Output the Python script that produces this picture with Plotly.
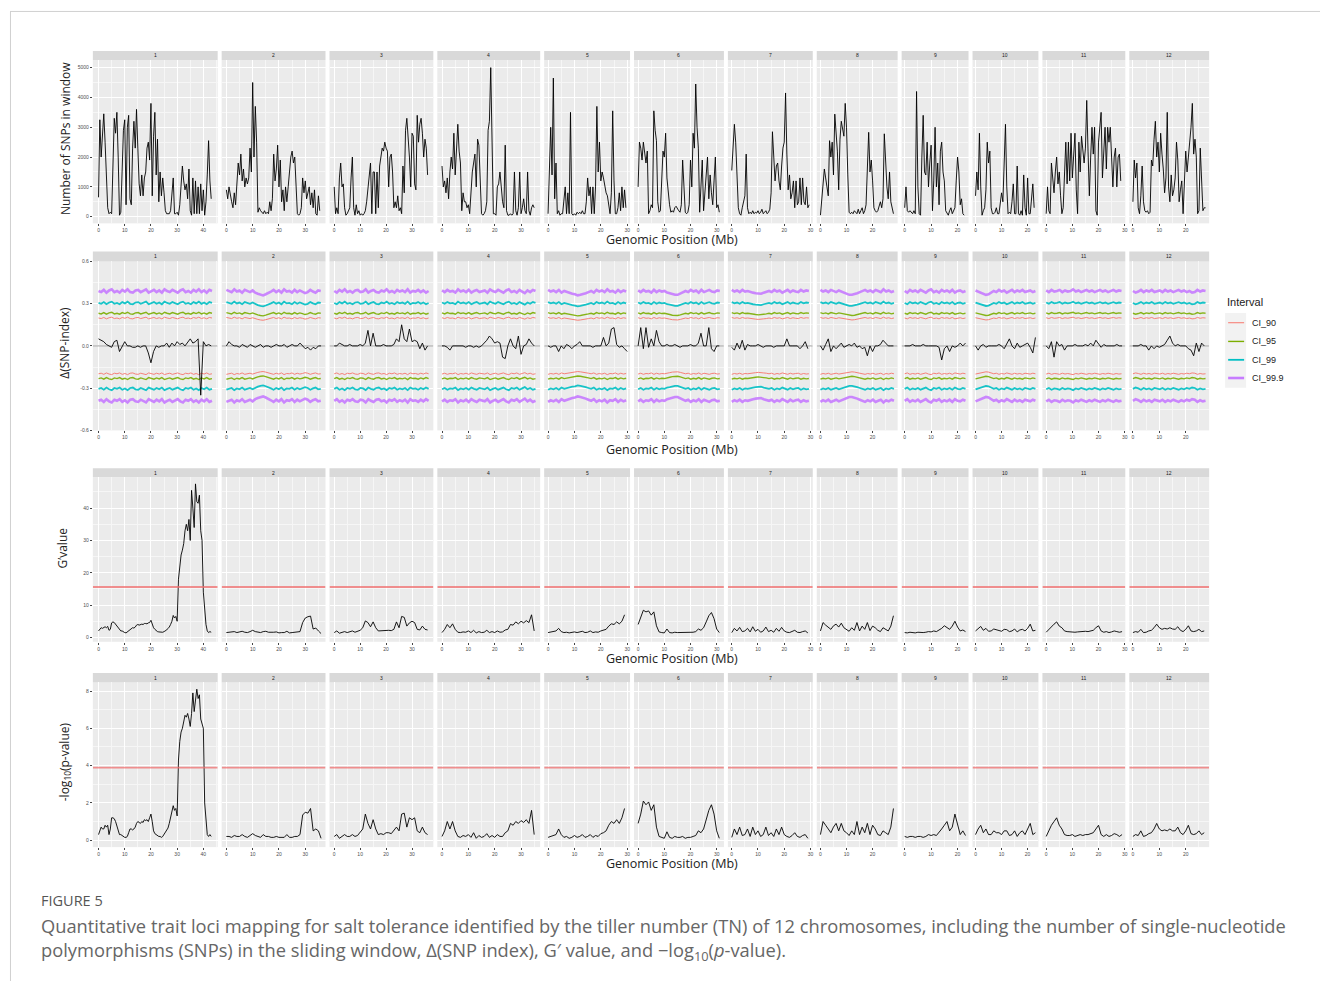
import numpy as np
import plotly.graph_objects as go

W, H = 1322, 984

# ---------------- data ----------------
CHROMS = ["1", "2", "3", "4", "5", "6", "7", "8", "9", "10", "11", "12"]
CHROM_MB = [43.3, 35.9, 36.4, 35.5, 29.6, 31.2, 29.4, 28.2, 23.0, 23.0, 28.8, 27.5]

SNP_STEP = 0.5
snp_chr1 = [650, 3250, 2000, 2800, 3450, 2500, 1600, 300, 100, 150, 100, 1500, 3300, 2800, 3500, 2000, 50, 150, 1600, 2900,
            3250, 400, 3000, 3400, 600, 400, 2300, 3200, 2300, 3600, 2300, 1100, 700, 1400, 700, 1300, 1500, 2300, 2500, 1900,
            3800, 700, 2700, 3500, 1400, 2600, 500, 1500, 700, 1300, 800, 200, 100, 100, 100, 200, 900, 1300, 100, 100,
            150, 50, 400, 1200, 1700, 1200, 900, 1100, 600, 1600, 200, 50, 1300, 100, 1200, 100, 1000, 100, 1100, 200,
            900, 50, 500, 1400, 2550, 1200, 600]
snp_chr2 = [900, 600, 1000, 700, 500, 300, 800, 400, 1300, 1800, 1400, 2100, 1200, 1600, 1000, 1300, 1100, 1300, 2300, 1500,
            4500, 2000, 3700, 2500, 150, 300, 200, 150, 100, 200, 100, 150, 100, 500, 200, 600, 2100, 1200, 1600, 2400,
            1000, 1900, 500, 900, 200, 1000, 500, 1000, 1500, 2000, 2200, 1800, 2000, 1000, 100, 50, 100, 300, 1300, 800,
            1200, 600, 800, 1000, 400, 800, 300, 900, 100, 50, 700, 200]
snp_chr3 = [1000, 100, 300, 100, 1300, 1800, 1000, 1100, 300, 50, 100, 200, 300, 1300, 2000, 300, 50, 400, 100, 200,
            50, 100, 50, 100, 200, 500, 1000, 1300, 1800, 100, 1500, 1500, 100, 1500, 300, 1700, 2000, 2300, 2200, 2500,
            2300, 2200, 1000, 2000, 2100, 1500, 300, 500, 300, 700, 200, 300, 100, 1700, 800, 2900, 3300, 2700, 2000, 1000,
            2800, 2700, 1100, 900, 3400, 2500, 3100, 3300, 2800, 2000, 2600, 2300, 1400]
snp_chr4 = [1700, 1000, 1200, 800, 1300, 600, 1500, 2000, 1600, 2800, 1400, 2300, 3100, 2200, 1800, 200, 800, 500, 500, 300,
            400, 100, 800, 1500, 1800, 2100, 1000, 2600, 2400, 1100, 100, 50, 100, 200, 500, 2900, 3200, 5000, 2600, 100,
            100, 50, 1000, 1100, 1500, 1000, 500, 300, 2400, 200, 50, 50, 100, 50, 100, 1500, 200, 50, 300, 1500,
            100, 300, 600, 200, 100, 1500, 200, 50, 300, 400, 300]
snp_chr5 = [100, 1500, 3000, 1400, 4650, 600, 1800, 100, 200, 50, 100, 100, 700, 1000, 100, 800, 100, 3500, 100, 50,
            100, 50, 150, 100, 150, 100, 200, 100, 100, 500, 1300, 700, 1000, 100, 1000, 100, 1000, 3700, 1500, 2500,
            1200, 1500, 1300, 1000, 800, 700, 300, 100, 800, 3550, 1200, 100, 100, 300, 800, 200, 1000, 300, 900, 300]
snp_chr6 = [1000, 2500, 2300, 1900, 2500, 2100, 1800, 2200, 100, 200, 400, 300, 3550, 2900, 2550, 500, 150, 200, 1000, 2200,
            2000, 2800, 1300, 800, 400, 150, 200, 150, 300, 350, 250, 200, 150, 400, 1900, 700, 150, 100, 150, 400,
            1900, 1000, 2800, 2300, 4450, 3000, 2300, 150, 1200, 1900, 200, 800, 1200, 2000, 600, 1400, 800, 400, 1200, 2000,
            300, 400, 150]
snp_chr7 = [1550, 2200, 3100, 2500, 1300, 300, 100, 50, 300, 500, 700, 2100, 300, 100, 150, 100, 200, 100, 150, 120,
            200, 100, 150, 250, 100, 150, 200, 100, 150, 250, 800, 2850, 2100, 1200, 1700, 1800, 1200, 900, 1700, 2300,
            2500, 4150, 2100, 900, 1400, 600, 800, 1200, 300, 1200, 400, 500, 1300, 400, 1300, 500, 400, 1000, 300, 400]
snp_chr8 = [50, 650, 1200, 1600, 1300, 900, 700, 2550, 2000, 2500, 1400, 3440, 2800, 2200, 900, 2600, 3200, 3000, 2700, 3800,
            3000, 1400, 150, 100, 150, 100, 200, 150, 100, 250, 100, 200, 300, 100, 200, 400, 1500, 2830, 1500, 1900,
            1200, 300, 200, 150, 200, 350, 500, 300, 600, 2780, 1800, 1000, 600, 1500, 500, 300, 100]
snp_chr9 = [300, 1000, 200, 150, 200, 150, 100, 200, 100, 4200, 1000, 100, 50, 2000, 3400, 1500, 1400, 2500, 1000, 1800,
            2400, 200, 1200, 3000, 1000, 1800, 400, 2200, 2500, 1500, 1200, 200, 100, 50, 200, 300, 100, 200, 300, 1200,
            2000, 1500, 400, 600, 100, 50]
snp_chr10 = [700, 1500, 900, 2800, 1000, 50, 200, 300, 900, 2500, 1800, 2200, 300, 100, 100, 150, 300, 100, 100, 400,
             800, 500, 2000, 3100, 1000, 100, 150, 100, 500, 1100, 100, 100, 1700, 100, 50, 200, 50, 1400, 300, 50,
             1300, 100, 100, 500, 1100, 300]
snp_chr11 = [100, 1000, 200, 100, 1800, 1200, 800, 1500, 2000, 1100, 1500, 700, 100, 300, 1500, 2500, 1100, 2500, 1200, 2800,
             1300, 2100, 2800, 900, 100, 2500, 1500, 2700, 2300, 1800, 2300, 3900, 2200, 700, 2000, 3000, 2100, 3000, 200, 50,
             2500, 3000, 3500, 1300, 2100, 3000, 1600, 3000, 2500, 3000, 2000, 1000, 2000, 2300, 1000, 2000, 2100, 1200]
snp_chr12 = [500, 1900, 1300, 1800, 300, 100, 700, 1700, 500, 200, 150, 200, 100, 150, 1900, 1700, 2600, 3200, 2000, 2500,
             1500, 2800, 2100, 1600, 800, 1300, 3500, 1000, 500, 1400, 700, 900, 1300, 2500, 1900, 500, 900, 1200, 100, 1000,
             2200, 1500, 2000, 2500, 3000, 3800, 2100, 2600, 2000, 100, 200, 2300, 1000, 200, 300, 300]
SNP = [snp_chr1, snp_chr2, snp_chr3, snp_chr4, snp_chr5, snp_chr6, snp_chr7, snp_chr8, snp_chr9, snp_chr10, snp_chr11, snp_chr12]

DELTA_STEP = 1.0
delta_chr1 = [0.05, 0.04, 0.03, 0.01, 0.0, -0.01, 0.03, 0.04, -0.04, 0.0, 0.03, 0.0, 0.0, -0.01, -0.01, 0.0, -0.01, 0.0, 0.0, -0.05,
              -0.12, -0.04, 0.0, -0.01, 0.0, 0.0, 0.02, -0.01, 0.02, 0.0, 0.03, 0.01, 0.02, 0.0, 0.03, 0.05, 0.02, 0.03, 0.05, -0.35,
              0.03, 0.0, 0.01, 0.0]
delta_chr2 = [0.0, 0.03, 0.01, 0.0, 0.0, -0.01, 0.01, 0.0, -0.01, 0.01, 0.0, -0.01, 0.0, 0.01, -0.01, 0.0, 0.0, -0.01, 0.0, 0.01,
              0.0, 0.0, 0.01, -0.01, 0.0, 0.01, 0.0, 0.0, 0.02, 0.0, -0.02, -0.01, -0.03, -0.01, -0.02, 0.0, 0.0]
delta_chr3 = [0.0, 0.0, 0.02, 0.01, 0.0, 0.0, 0.01, 0.0, 0.0, 0.0, 0.01, 0.0, 0.02, 0.11, 0.0, 0.09, 0.0, 0.0, 0.0, 0.01,
              0.0, 0.0, 0.0, 0.01, 0.05, 0.03, 0.15, 0.05, 0.03, 0.12, 0.03, 0.04, 0.03, -0.02, 0.02, -0.03, 0.0]
delta_chr4 = [0.0, 0.0, -0.01, -0.03, 0.0, 0.0, 0.0, 0.0, 0.0, -0.01, 0.0, 0.0, -0.01, 0.0, -0.01, 0.0, 0.02, 0.04, 0.07, 0.05,
              0.02, 0.03, 0.02, -0.08, -0.09, 0.0, 0.05, 0.0, -0.02, 0.07, -0.06, 0.0, 0.01, 0.05, 0.02, 0.0]
delta_chr5 = [0.0, -0.01, 0.0, 0.0, -0.04, 0.0, -0.02, 0.01, 0.0, -0.02, 0.0, 0.01, 0.03, 0.0, 0.0, 0.0, 0.0, -0.01, 0.0, 0.0,
              0.0, 0.06, 0.0, 0.02, 0.12, 0.13, 0.01, -0.01, 0.0, -0.02, -0.04]
delta_chr6 = [0.0, 0.13, -0.02, 0.13, -0.01, 0.05, 0.0, 0.11, 0.03, 0.0, 0.0, 0.01, 0.0, 0.0, 0.01, 0.0, -0.01, 0.0, 0.0, 0.0,
              0.01, 0.0, 0.0, 0.02, 0.09, 0.0, 0.0, 0.13, -0.02, -0.04, 0.0, 0.0]
delta_chr7 = [-0.01, -0.03, 0.02, -0.02, 0.04, -0.03, 0.01, 0.0, 0.0, 0.0, 0.01, 0.0, -0.01, 0.0, 0.0, 0.0, -0.01, 0.0, 0.0, 0.0,
              0.0, 0.05, 0.0, 0.0, 0.0, 0.0, -0.02, 0.0, 0.03, -0.02]
delta_chr8 = [0.0, -0.03, 0.01, 0.05, -0.04, 0.0, -0.02, 0.0, 0.02, -0.01, 0.0, 0.01, 0.0, 0.02, -0.01, 0.0, -0.02, -0.01, -0.07, 0.0,
              -0.04, 0.0, 0.0, 0.01, 0.04, 0.02, 0.0, 0.0, 0.0]
delta_chr9 = [0.0, 0.0, 0.0, 0.01, 0.0, 0.0, 0.0, 0.01, 0.0, 0.0, 0.0, 0.0, 0.0, -0.01, -0.1, -0.02, 0.0, -0.04, 0.0, -0.01,
              0.0, 0.02, 0.0, 0.02]
delta_chr10 = [0.0, -0.03, 0.0, 0.01, -0.01, 0.0, 0.0, 0.0, 0.0, 0.01, 0.0, -0.02, 0.01, 0.05, 0.0, -0.02, 0.02, -0.01, 0.0, 0.01,
               0.02, -0.01, -0.05, 0.06]
delta_chr11 = [0.0, -0.02, 0.03, -0.08, 0.03, 0.0, 0.01, -0.03, 0.0, 0.0, 0.0, 0.01, 0.0, 0.0, 0.0, 0.01, 0.0, 0.02, 0.0, 0.04,
               0.01, -0.01, 0.01, 0.0, 0.0, 0.0, 0.0, 0.01, 0.0, 0.0]
delta_chr12 = [0.0, 0.0, 0.0, 0.01, 0.0, 0.0, -0.03, 0.0, -0.02, 0.0, -0.01, 0.0, 0.01, 0.04, 0.07, 0.02, 0.0, 0.01, 0.0, 0.0,
               0.0, -0.02, -0.03, -0.07, 0.02, -0.04, 0.02, 0.0]
DELTA = [delta_chr1, delta_chr2, delta_chr3, delta_chr4, delta_chr5, delta_chr6, delta_chr7, delta_chr8, delta_chr9,
         delta_chr10, delta_chr11, delta_chr12]

# confidence-interval levels (upper bound; the lower bound mirrors it) and per-chromosome depth profile (1 Mb)
CI_NAMES = ["CI_90", "CI_95", "CI_99", "CI_99.9"]
CI_BASE = [0.198, 0.232, 0.305, 0.39]
ci_prof_chr1 = [1.00, 0.98, 1.02, 0.97, 1.01, 1.03, 0.98, 1.00, 0.97, 1.02, 0.99, 1.03, 0.98, 0.97, 1.01, 1.02, 0.98, 1.00, 1.03, 0.97,
                0.99, 1.02, 0.98, 1.01, 0.97, 1.03, 1.00, 0.98, 1.02, 0.99, 0.97, 1.01, 1.03, 0.98, 1.00, 0.97, 1.02, 0.99, 1.03, 0.98,
                1.01, 0.97, 1.02, 1.00]
ci_prof_chr2 = [1.02, 1.00, 0.98, 1.03, 0.99, 1.01, 0.97, 1.02, 1.00, 0.98, 1.01, 0.97, 0.95, 0.93, 0.92, 0.94, 0.96, 0.99, 1.02, 0.98,
                1.01, 0.97, 1.03, 0.99, 1.00, 0.97, 1.02, 0.98, 1.01, 0.99, 0.96, 0.98, 1.02, 0.99, 0.97, 1.01, 1.00]
ci_prof_chr3 = [1.00, 0.97, 1.02, 0.99, 1.03, 0.98, 1.00, 0.97, 1.01, 1.02, 0.98, 0.99, 1.03, 0.97, 1.00, 1.02, 0.98, 0.97, 1.01, 0.99,
                1.03, 0.98, 1.00, 0.97, 1.02, 0.99, 1.01, 0.98, 1.03, 0.97, 1.00, 0.99, 1.02, 0.98, 1.01, 0.97, 1.00]
ci_prof_chr4 = [1.01, 0.98, 1.02, 0.99, 1.00, 0.97, 1.03, 0.99, 1.01, 0.98, 1.02, 0.97, 1.00, 1.02, 0.98, 0.99, 1.01, 0.97, 1.03, 1.00,
                0.98, 1.02, 0.99, 0.97, 1.01, 1.03, 0.98, 1.00, 0.97, 1.02, 0.99, 0.96, 1.01, 0.98, 1.02, 1.00]
ci_prof_chr5 = [1.02, 0.99, 1.01, 0.98, 1.02, 0.97, 1.00, 0.98, 0.97, 0.95, 0.94, 0.92, 0.93, 0.94, 0.96, 0.98, 1.00, 0.97, 1.02, 0.99,
                1.01, 0.98, 1.03, 0.99, 1.00, 0.97, 1.02, 0.98, 1.01, 0.99]
ci_prof_chr6 = [1.01, 0.98, 1.02, 0.99, 1.00, 0.97, 1.02, 0.98, 1.01, 0.99, 1.00, 0.97, 0.96, 0.94, 0.93, 0.93, 0.95, 0.97, 1.00, 0.98,
                1.02, 0.99, 1.01, 0.97, 1.02, 0.98, 1.00, 1.02, 0.99, 0.98, 1.01, 1.00]
ci_prof_chr7 = [1.02, 0.99, 1.01, 0.98, 1.02, 0.99, 1.00, 0.98, 0.97, 0.96, 0.95, 0.95, 0.97, 0.98, 1.00, 0.98, 1.02, 0.99, 1.01, 0.97,
                1.00, 1.02, 0.98, 1.01, 0.99, 0.98, 1.02, 0.99, 1.01, 1.00]
ci_prof_chr8 = [1.02, 0.99, 1.01, 0.98, 1.02, 1.00, 0.98, 1.01, 0.99, 0.97, 0.95, 0.93, 0.93, 0.94, 0.96, 0.98, 1.00, 1.02, 0.99, 1.01,
                0.98, 1.02, 1.00, 0.98, 1.03, 0.99, 1.01, 0.98, 1.00]
ci_prof_chr9 = [1.00, 0.97, 1.02, 0.99, 1.01, 0.98, 1.02, 0.99, 0.97, 1.01, 1.03, 0.98, 1.00, 0.97, 1.02, 0.99, 1.01, 0.98, 1.02, 0.97,
                1.00, 1.01, 0.98, 1.00]
ci_prof_chr10 = [1.01, 0.99, 0.97, 0.95, 0.93, 0.94, 0.97, 1.00, 0.98, 1.02, 0.99, 1.01, 0.97, 1.00, 1.02, 0.98, 1.01, 0.99, 1.02, 0.98,
                 1.00, 1.01, 0.98, 1.00]
ci_prof_chr11 = [1.01, 0.98, 1.02, 0.99, 1.00, 1.02, 0.98, 1.01, 0.99, 1.00, 1.03, 0.99, 1.01, 0.98, 1.00, 1.02, 0.99, 1.01, 0.98, 1.00,
                 1.02, 0.99, 1.01, 0.98, 1.00, 1.02, 0.99, 1.01, 1.00]
ci_prof_chr12 = [1.00, 0.97, 0.99, 1.02, 0.98, 1.01, 0.99, 1.02, 0.98, 1.00, 1.01, 0.98, 1.02, 0.99, 1.01, 0.98, 1.00, 1.02, 0.99, 1.01,
                 0.98, 1.00, 0.97, 0.98, 1.02, 0.99, 1.01, 1.00]
CI_PROF = [ci_prof_chr1, ci_prof_chr2, ci_prof_chr3, ci_prof_chr4, ci_prof_chr5, ci_prof_chr6, ci_prof_chr7,
           ci_prof_chr8, ci_prof_chr9, ci_prof_chr10, ci_prof_chr11, ci_prof_chr12]

G_STEP = [0.5, 1, 1, 1, 1, 1, 1, 1, 1, 1, 1, 1]
g_chr1 = [2.0, 2.5, 3.0, 2.8, 3.0, 3.3, 3.0, 3.4, 2.2, 2.5, 4.5, 4.8, 4.6, 4.0, 3.5, 3.0, 2.3, 2.0, 2.0, 1.6,
          1.5, 1.4, 1.7, 2.0, 2.5, 2.8, 3.0, 2.9, 3.2, 3.8, 4.0, 3.8, 4.0, 4.1, 4.0, 4.3, 4.3, 4.2, 4.5, 4.6,
          5.3, 4.0, 3.0, 2.5, 2.0, 1.8, 1.7, 1.6, 1.5, 1.6, 1.8, 2.0, 2.3, 2.8, 3.2, 4.0, 5.0, 6.8, 6.0, 6.5,
          5.0, 18.0, 22.0, 25.5, 27.0, 29.0, 33.0, 35.0, 33.0, 36.5, 30.0, 45.5, 40.0, 34.0, 47.5, 42.0, 41.5, 44.0, 33.0, 30.0,
          14.0, 8.0, 4.0, 2.0, 1.5, 1.8, 1.6]
g_chr2 = [1.5, 1.6, 1.5, 1.8, 1.5, 1.7, 1.9, 1.6, 1.5, 1.8, 2.2, 1.8, 1.7, 1.5, 1.8, 1.9, 1.6, 1.5, 1.6, 1.7,
          1.4, 1.5, 1.5, 1.9, 1.4, 1.5, 1.6, 1.5, 1.8, 4.6, 6.0, 6.4, 6.6, 2.6, 2.9, 2.0, 1.2]
g_chr3 = [1.5, 2.0, 1.3, 1.6, 1.8, 1.5, 1.7, 2.0, 1.6, 1.8, 2.2, 3.0, 5.1, 4.6, 3.3, 4.8, 3.0, 2.0, 2.1, 2.0,
          2.3, 2.2, 2.1, 2.5, 4.8, 3.0, 6.5, 6.2, 3.5, 4.5, 5.0, 4.6, 2.5, 2.3, 3.5, 2.5, 2.3]
g_chr4 = [1.5, 2.5, 4.0, 3.0, 4.2, 2.5, 1.6, 1.5, 1.7, 1.6, 2.0, 1.5, 2.2, 1.4, 1.8, 1.5, 1.6, 2.2, 1.5, 1.8,
          1.5, 2.0, 1.6, 1.7, 2.3, 2.5, 4.0, 3.8, 4.8, 4.2, 5.0, 4.5, 5.2, 4.6, 7.0, 2.0]
g_chr5 = [1.5, 1.6, 1.8, 2.0, 2.8, 1.8, 1.5, 1.6, 1.4, 1.5, 1.7, 1.5, 1.6, 1.9, 1.5, 1.6, 2.0, 1.5, 1.7, 1.6,
          2.0, 2.2, 2.5, 3.5, 4.2, 4.0, 4.8, 4.2, 5.0, 7.0]
g_chr6 = [4.0, 6.0, 8.4, 7.9, 8.2, 6.9, 7.9, 3.6, 1.7, 1.5, 1.4, 2.6, 1.5, 1.4, 1.6, 1.5, 1.5, 1.6, 1.4, 1.5,
          1.5, 1.6, 1.8, 2.6, 2.2, 3.0, 4.8, 6.7, 7.7, 5.8, 2.6, 1.5]
g_chr7 = [1.5, 2.8, 2.0, 3.1, 1.8, 2.0, 2.8, 1.7, 3.3, 1.9, 2.5, 1.6, 2.0, 3.2, 1.8, 2.2, 1.6, 2.8, 1.9, 3.1,
          2.0, 1.6, 1.5, 1.8, 2.2, 1.6, 1.5, 1.8, 2.0, 1.4]
g_chr8 = [2.0, 4.6, 3.8, 3.1, 2.5, 3.6, 4.1, 3.2, 4.4, 3.0, 2.5, 1.9, 3.0, 2.2, 4.6, 2.0, 3.5, 2.5, 4.6, 2.1,
          3.5, 3.0, 2.2, 1.8, 3.0, 2.5, 2.0, 3.5, 6.7]
g_chr9 = [1.5, 1.4, 1.6, 1.5, 1.4, 1.6, 1.5, 1.5, 1.6, 1.8, 1.7, 2.0, 1.8, 2.2, 2.8, 3.6, 3.0, 2.5, 3.5, 5.0,
          3.2, 2.0, 2.3, 1.8]
g_chr10 = [2.0, 2.8, 3.4, 2.2, 2.8, 1.9, 2.0, 2.6, 2.3, 2.2, 1.9, 2.5, 2.4, 1.8, 2.0, 2.6, 1.7, 2.3, 2.5, 2.0,
           2.8, 4.1, 2.0, 2.2]
g_chr11 = [1.6, 2.5, 3.5, 4.1, 4.8, 3.5, 3.0, 2.0, 1.8, 1.7, 1.8, 1.6, 1.7, 1.8, 1.7, 1.9, 1.8, 2.0, 2.2, 3.0,
           3.6, 2.0, 1.6, 1.8, 1.5, 1.7, 2.0, 1.8, 1.6, 1.8]
g_chr12 = [1.5, 1.8, 1.6, 2.5, 1.5, 1.6, 2.0, 2.2, 3.0, 4.1, 3.0, 2.5, 2.8, 2.6, 3.0, 2.6, 2.5, 3.3, 2.2, 1.8,
           2.5, 3.6, 2.0, 1.8, 2.0, 2.5, 1.8, 2.0]
GPRIME = [g_chr1, g_chr2, g_chr3, g_chr4, g_chr5, g_chr6, g_chr7, g_chr8, g_chr9, g_chr10, g_chr11, g_chr12]
G_THRESHOLD = 15.6

p_chr1 = [0.3, 0.5, 0.7, 0.6, 0.6, 0.8, 0.7, 0.8, 0.3, 0.6, 1.2, 1.2, 1.15, 1.0, 0.8, 0.5, 0.3, 0.3, 0.25, 0.2,
          0.15, 0.15, 0.2, 0.4, 0.6, 0.6, 0.55, 0.6, 0.7, 0.9, 1.0, 0.95, 0.9, 1.0, 0.95, 1.1, 1.05, 1.1, 1.0, 1.2,
          1.4, 1.0, 0.5, 0.35, 0.3, 0.25, 0.2, 0.2, 0.15, 0.2, 0.3, 0.4, 0.5, 0.65, 0.9, 1.2, 1.5, 1.85, 1.6, 1.7,
          1.3, 4.3, 5.3, 5.8, 6.0, 6.4, 6.7, 6.6, 6.8, 6.5, 6.1, 6.8, 7.9, 6.9, 7.5, 8.1, 7.6, 7.8, 6.5, 6.2,
          6.0, 2.0, 1.0, 0.3, 0.2, 0.3, 0.2]
p_chr2 = [0.2, 0.2, 0.15, 0.25, 0.2, 0.2, 0.3, 0.2, 0.15, 0.25, 0.35, 0.25, 0.2, 0.15, 0.3, 0.2, 0.2, 0.15, 0.15, 0.2,
          0.15, 0.15, 0.15, 0.3, 0.15, 0.15, 0.2, 0.2, 0.3, 1.35, 1.5, 1.45, 1.7, 0.5, 0.6, 0.5, 0.1]
p_chr3 = [0.2, 0.3, 0.1, 0.2, 0.3, 0.2, 0.2, 0.3, 0.2, 0.25, 0.4, 0.6, 1.4, 0.9, 0.6, 1.1, 0.6, 0.3, 0.35, 0.3,
          0.4, 0.4, 0.35, 0.5, 0.7, 0.5, 1.4, 1.45, 0.7, 1.2, 1.1, 1.2, 0.5, 0.4, 0.7, 0.4, 0.3]
p_chr4 = [0.2, 0.5, 1.0, 0.6, 1.0, 0.5, 0.2, 0.15, 0.25, 0.2, 0.3, 0.15, 0.4, 0.1, 0.25, 0.15, 0.2, 0.35, 0.15, 0.25,
          0.15, 0.3, 0.2, 0.2, 0.4, 0.5, 0.9, 0.8, 1.0, 0.9, 1.05, 0.95, 1.1, 0.9, 1.6, 0.3]
p_chr5 = [0.15, 0.2, 0.25, 0.3, 0.6, 0.3, 0.15, 0.2, 0.1, 0.15, 0.25, 0.15, 0.2, 0.3, 0.15, 0.2, 0.3, 0.15, 0.25, 0.2,
          0.35, 0.4, 0.5, 0.8, 1.0, 0.9, 1.1, 0.9, 1.2, 1.7]
p_chr6 = [0.9, 1.4, 2.1, 1.9, 2.05, 1.6, 1.9, 0.7, 0.2, 0.15, 0.1, 0.45, 0.15, 0.1, 0.2, 0.15, 0.15, 0.2, 0.1, 0.15,
          0.15, 0.2, 0.25, 0.5, 0.4, 0.6, 1.1, 1.6, 1.9, 1.4, 0.5, 0.1]
p_chr7 = [0.15, 0.6, 0.3, 0.7, 0.25, 0.3, 0.6, 0.2, 0.7, 0.3, 0.5, 0.2, 0.3, 0.7, 0.25, 0.4, 0.2, 0.6, 0.3, 0.7,
          0.3, 0.2, 0.15, 0.25, 0.4, 0.2, 0.15, 0.25, 0.3, 0.1]
p_chr8 = [0.3, 1.0, 0.8, 0.6, 0.4, 0.7, 0.9, 0.5, 0.9, 0.5, 0.4, 0.25, 0.5, 0.3, 1.0, 0.3, 0.7, 0.4, 0.9, 0.3,
          0.8, 0.6, 0.3, 0.25, 0.5, 0.4, 0.3, 0.7, 1.7]
p_chr9 = [0.2, 0.15, 0.2, 0.2, 0.15, 0.2, 0.2, 0.15, 0.2, 0.3, 0.25, 0.3, 0.25, 0.4, 0.6, 0.8, 1.0, 0.5, 0.7, 1.4,
          0.9, 0.3, 0.5, 0.25]
p_chr10 = [0.3, 0.6, 0.8, 0.4, 0.6, 0.3, 0.3, 0.5, 0.4, 0.4, 0.3, 0.5, 0.5, 0.25, 0.3, 0.5, 0.2, 0.4, 0.5, 0.3,
           0.6, 0.9, 0.3, 0.4]
p_chr11 = [0.2, 0.5, 0.8, 1.0, 1.2, 0.8, 0.6, 0.3, 0.25, 0.25, 0.3, 0.2, 0.25, 0.3, 0.25, 0.3, 0.3, 0.35, 0.4, 0.6,
           0.8, 0.3, 0.2, 0.3, 0.2, 0.25, 0.35, 0.3, 0.2, 0.3]
p_chr12 = [0.2, 0.3, 0.25, 0.5, 0.2, 0.25, 0.35, 0.4, 0.6, 0.9, 0.6, 0.5, 0.55, 0.5, 0.6, 0.5, 0.5, 0.7, 0.4, 0.3,
           0.5, 0.8, 0.35, 0.3, 0.35, 0.5, 0.3, 0.4]
NEGLOGP = [p_chr1, p_chr2, p_chr3, p_chr4, p_chr5, p_chr6, p_chr7, p_chr8, p_chr9, p_chr10, p_chr11, p_chr12]
P_THRESHOLD = 3.89

Y_TITLES = ["Number of SNPs in window", "\u0394(SNP-index)", "G\u2019value", "-log<sub>10</sub>(p-value)"]
Y_TICKS = [[0, 1000, 2000, 3000, 4000, 5000], [-0.6, -0.3, 0.0, 0.3, 0.6], [0, 10, 20, 30, 40], [0, 2, 4, 6, 8]]
Y_TICKTEXT = [["0", "1000", "2000", "3000", "4000", "5000"], ["-0.6", "-0.3", "0.0", "0.3", "0.6"],
              ["0", "10", "20", "30", "40"], ["0", "2", "4", "6", "8"]]
Y_MINOR = [[500, 1500, 2500, 3500, 4500], [-0.45, -0.15, 0.15, 0.45], [5, 15, 25, 35, 45], [1, 3, 5, 7]]

# ---------------- layout (pixel geometry) ----------------
PANEL_X = [(93, 218), (222, 326), (330, 434), (438, 541), (545, 631), (635, 725), (729, 814),
           (818, 899), (903, 970), (974, 1040), (1044, 1127), (1131, 1211)]
ROW_Y = [(57.3, 221.7), (260, 430), (477, 642.7), (683.3, 849.3)]
STRIP_Y = [(48.3, 57.3), (250, 260), (468, 477), (674, 683.3)]
Y_RANGE = [[-223, 5257], [-0.6, 0.6], [-1.35, 49.6], [-0.373, 8.48]]
YTITLE_POS = [(65, 136), (65, 342), (63, 548), (65, 763)]
XTITLE_Y = [238, 449, 660, 866]

CI_COLORS = ["#F8766D", "#7CAE00", "#00BFC4", "#C77CFF"]
CI_WIDTH = [1.0, 1.4, 1.8, 2.6]

def px(x):
    return x / W

def py(y):
    return 1 - y / H

fig = go.Figure()
layout = dict(width=W, height=H, margin=dict(l=0, r=0, t=0, b=0), autosize=False,
              paper_bgcolor="white", plot_bgcolor="#EBEBEB", showlegend=False,
              font=dict(family="Liberation Sans, Arial, sans-serif", color="#333"))
shapes, annotations = [], []

def ax_name(prefix, k):
    return prefix if k == 1 else f"{prefix}{k}"

for r in range(4):
    y0, y1 = ROW_Y[r]
    s0, s1 = STRIP_Y[r]
    for c in range(12):
        k = r * 12 + c + 1
        x0, x1 = PANEL_X[c]
        L = CHROM_MB[c]
        xref = "x" if k == 1 else f"x{k}"
        yref = "y" if k == 1 else f"y{k}"
        layout[ax_name("xaxis", k)] = dict(
            domain=[px(x0), px(x1)], anchor=yref, range=[-0.05 * L, 1.05 * L],
            tickmode="linear", tick0=0, dtick=10, ticks="outside", ticklen=2, tickwidth=0.6,
            tickcolor="#444", showgrid=True, gridcolor="white", gridwidth=1,
            minor=dict(tickmode="linear", tick0=0, dtick=5, showgrid=True, gridcolor="#F6F6F6", gridwidth=0.5),
            zeroline=False, showline=False, tickfont=dict(size=5, color="#4D4D4D"), tickangle=0)
        layout[ax_name("yaxis", k)] = dict(
            domain=[py(y1), py(y0)], anchor=xref, range=Y_RANGE[r],
            tickmode="array", tickvals=Y_TICKS[r], ticktext=Y_TICKTEXT[r],
            showticklabels=(c == 0), ticks="outside" if c == 0 else "", ticklen=2, tickwidth=0.6,
            tickcolor="#444", showgrid=True, gridcolor="white", gridwidth=1,
            minor=dict(tickmode="array", tickvals=Y_MINOR[r], showgrid=True, gridcolor="#F6F6F6", gridwidth=0.5),
            zeroline=False, showline=False, tickfont=dict(size=5, color="#4D4D4D"))
        # facet strip
        shapes.append(dict(type="rect", xref="paper", yref="paper", x0=px(x0), x1=px(x1),
                           y0=py(s1), y1=py(s0), fillcolor="#D9D9D9", line=dict(width=0), layer="below"))
        annotations.append(dict(text=CHROMS[c], xref="paper", yref="paper", x=px((x0 + x1) / 2),
                                y=py((s0 + s1) / 2), showarrow=False, font=dict(size=5, color="#1A1A1A"),
                                xanchor="center", yanchor="middle"))

        if r == 0:
            v = SNP[c]
            fig.add_trace(go.Scatter(x=np.arange(len(v)) * SNP_STEP, y=v, mode="lines",
                                     line=dict(color="black", width=0.9), xaxis=xref, yaxis=yref, hoverinfo="skip"))
        elif r == 1:
            prof = np.array(CI_PROF[c])
            xs = np.linspace(0, L, len(prof))
            for i in range(4):
                for sgn in (1, -1):
                    fig.add_trace(go.Scatter(x=xs, y=sgn * CI_BASE[i] * prof, mode="lines",
                                             line=dict(color=CI_COLORS[i], width=CI_WIDTH[i]),
                                             opacity=0.9, xaxis=xref, yaxis=yref, hoverinfo="skip"))
            # reference line at 0
            fig.add_trace(go.Scatter(x=[-0.05 * L, 1.05 * L], y=[0, 0], mode="lines",
                                     line=dict(color="#8C8C8C", width=0.8), xaxis=xref, yaxis=yref, hoverinfo="skip"))
            v = DELTA[c]
            fig.add_trace(go.Scatter(x=np.arange(len(v)) * DELTA_STEP, y=v, mode="lines",
                                     line=dict(color="black", width=0.9), xaxis=xref, yaxis=yref, hoverinfo="skip"))
        else:
            v = GPRIME[c] if r == 2 else NEGLOGP[c]
            thr = G_THRESHOLD if r == 2 else P_THRESHOLD
            fig.add_trace(go.Scatter(x=np.arange(len(v)) * G_STEP[c], y=v, mode="lines",
                                     line=dict(color="black", width=0.9), xaxis=xref, yaxis=yref, hoverinfo="skip"))
            fig.add_trace(go.Scatter(x=[-0.05 * L, 1.05 * L], y=[thr, thr], mode="lines",
                                     line=dict(color="rgba(240,110,110,0.75)", width=1.8),
                                     xaxis=xref, yaxis=yref, hoverinfo="skip"))

    # axis titles
    tx, ty = YTITLE_POS[r]
    annotations.append(dict(text=Y_TITLES[r], xref="paper", yref="paper", x=px(tx), y=py(ty), textangle=-90,
                            showarrow=False, xanchor="center", yanchor="middle",
                            font=dict(family="Open Sans, Noto Sans, sans-serif", size=12, color="#222")))
    annotations.append(dict(text="Genomic Position (Mb)", xref="paper", yref="paper", x=px(673), y=py(XTITLE_Y[r]),
                            showarrow=False, xanchor="center", yanchor="middle",
                            font=dict(family="Open Sans, Noto Sans, sans-serif", size=12.5, color="#222")))

# legend (drawn by hand, ggplot style)
annotations.append(dict(text="Interval", xref="paper", yref="paper", x=px(1227), y=py(301), showarrow=False,
                        xanchor="left", yanchor="middle", font=dict(size=11, color="#222")))
LEG_Y = [321.7, 340.5, 359, 377.3]
shapes.append(dict(type="rect", xref="paper", yref="paper", x0=px(1227), x1=px(1248), y0=py(387), y1=py(312),
                   fillcolor="#F2F2F2", line=dict(width=0)))
for i in range(4):
    shapes.append(dict(type="line", xref="paper", yref="paper", x0=px(1230), x1=px(1246), y0=py(LEG_Y[i]),
                       y1=py(LEG_Y[i]), line=dict(color=CI_COLORS[i], width=CI_WIDTH[i])))
    annotations.append(dict(text=CI_NAMES[i], xref="paper", yref="paper", x=px(1252), y=py(LEG_Y[i]),
                            showarrow=False, xanchor="left", yanchor="middle", font=dict(size=9, color="#222")))

# frame lines
shapes.append(dict(type="line", xref="paper", yref="paper", x0=px(10), x1=1, y0=py(8.5), y1=py(8.5),
                   line=dict(color="#D0D0D0", width=1)))
shapes.append(dict(type="line", xref="paper", yref="paper", x0=px(10.5), x1=px(10.5), y0=py(8.5), y1=0,
                   line=dict(color="#D0D0D0", width=1)))

# caption
CAP_FONT = "Open Sans, Noto Sans, sans-serif"
annotations.append(dict(text="FIGURE 5", xref="paper", yref="paper", x=px(39), y=py(903), showarrow=False,
                        xanchor="left", yanchor="middle", font=dict(family=CAP_FONT, size=14.5, color="#555")))
annotations.append(dict(text="Quantitative trait loci mapping for salt tolerance identified by the tiller number (TN) of 12 chromosomes, including the number of single-nucleotide",
                        xref="paper", yref="paper", x=px(39), y=py(928.5), showarrow=False, xanchor="left",
                        yanchor="middle", font=dict(family=CAP_FONT, size=18.3, color="#666")))
annotations.append(dict(text="polymorphisms (SNPs) in the sliding window, \u0394(SNP index), G\u2032 value, and \u2212log<sub>10</sub>(<i>p</i>-value).",
                        xref="paper", yref="paper", x=px(39), y=py(953.5), showarrow=False, xanchor="left",
                        yanchor="middle", font=dict(family=CAP_FONT, size=18.3, color="#666")))

layout["shapes"] = shapes
layout["annotations"] = annotations
fig.update_layout(**layout)
fig.write_html("out.html", config={"displayModeBar": False},
               post_script="document.body.style.margin='0px';")
